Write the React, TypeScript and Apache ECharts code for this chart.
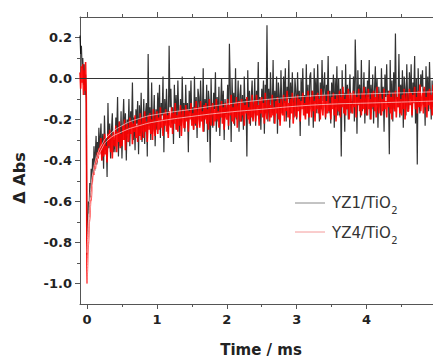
import React, { useEffect, useRef } from "react";
import * as echarts from "echarts";

// Time axis (ms) tick labels
const X_TICKS = [0, 1, 2, 3, 4];
const X_MINOR = [0.5, 1.5, 2.5, 3.5, 4.5];
const Y_TICKS = [-1.0, -0.8, -0.6, -0.4, -0.2, 0.0, 0.2];
const Y_MINOR = [-0.9, -0.7, -0.5, -0.3, -0.1, 0.1];

// sampling of the traces (ms)
const PRE_START = -0.1;
const PRE_STEP = 0.01;
const EARLY_START = 0;
const EARLY_STEP = 0.01;
const MAIN_START = 0.2;
const MAIN_STEP = 0.0125;

// YZ1/TiO2 (black) trace, ΔAbs
const BLACK_PRE = [0.21, 0.12, 0.16, 0.05, 0.1, -0.03, 0.07, -0.08, 0.02, -0.12];
const BLACK_EARLY = [
  -0.86, -0.72, -0.6, -0.66, -0.51, -0.58, -0.44, -0.52, -0.39, -0.47,
  -0.33, -0.45, -0.36, -0.28, -0.42, -0.31, -0.38, -0.24, -0.36, -0.29,
];
const BLACK_MAIN = [
  -0.22, -0.4, -0.27, -0.44, -0.18, -0.35, -0.29, -0.48, -0.12, -0.34, -0.22, -0.39, -0.25, -0.17, -0.36, -0.3,
  -0.36, -0.19, -0.27, -0.09, -0.38, -0.21, -0.33, -0.16, -0.39, -0.22, -0.1, -0.3, -0.17, -0.4, -0.2, -0.27,
  -0.1, -0.33, -0.16, -0.24, -0.02, -0.3, -0.19, -0.35, -0.15, -0.22, -0.11, -0.37, -0.13, -0.27, -0.07, -0.31,
  -0.24, -0.1, -0.32, -0.17, -0.12, -0.38, 0.12, -0.23, -0.14, -0.3, -0.02, -0.27, -0.21, -0.08, -0.33, -0.15,
  -0.25, -0.07, -0.2, -0.03, -0.29, -0.12, -0.18, 0.01, -0.36, -0.1, -0.22, -0.05, -0.19, -0.27, 0.16, -0.14,
  -0.05, -0.22, -0.14, -0.32, -0.03, -0.2, -0.08, -0.25, -0.01, -0.17, -0.29, -0.1, -0.23, 0.01, -0.19, -0.12,
  -0.26, -0.03, -0.2, -0.12, -0.36, -0.06, -0.17, -0.01, -0.21, -0.14, -0.25, 0.01, -0.23, -0.09, -0.29, -0.05,
  -0.09, -0.23, -0.01, -0.16, -0.21, 0.05, -0.26, -0.1, -0.19, -0.03, -0.31, -0.06, -0.12, -0.41, 0.0, -0.18,
  -0.24, -0.07, -0.15, 0.03, -0.26, -0.09, -0.21, -0.04, -0.28, -0.12, 0.0, -0.19, -0.06, -0.3, -0.1, -0.17,
  -0.17, -0.03, -0.25, 0.17, -0.05, -0.31, 0.0, -0.16, -0.07, -0.23, 0.05, -0.2, -0.14, -0.01, -0.26, -0.08,
  -0.03, -0.21, -0.08, -0.25, 0.01, -0.16, -0.1, -0.38, 0.04, -0.18, -0.06, -0.23, -0.09, -0.01, -0.2, -0.14,
  0.0, -0.23, -0.06, -0.14, 0.08, -0.2, -0.09, -0.25, -0.05, -0.12, -0.01, -0.27, -0.03, -0.17, 0.26, -0.21,
  -0.05, -0.19, 0.03, -0.12, -0.17, 0.09, -0.22, -0.06, -0.15, 0.01, -0.27, -0.02, -0.08, -0.21, 0.04, -0.14,
  -0.17, 0.01, -0.12, 0.05, -0.21, -0.04, -0.1, 0.09, -0.24, -0.02, -0.14, 0.03, -0.11, -0.19, 0.0, -0.06,
  -0.2, 0.03, -0.14, -0.06, -0.28, 0.0, -0.11, 0.05, -0.15, -0.08, -0.19, 0.07, -0.17, -0.03, -0.23, 0.01,
  0.03, -0.14, -0.06, -0.24, 0.05, -0.12, 0.0, -0.17, 0.07, -0.09, -0.21, -0.02, -0.15, 0.09, -0.11, -0.04,
  0.03, -0.2, -0.03, -0.11, 0.11, -0.17, -0.06, -0.22, -0.02, -0.09, 0.02, -0.24, 0.0, -0.14, 0.06, -0.18,
  0.0, -0.18, -0.05, -0.38, 0.04, -0.13, -0.07, -0.26, 0.07, -0.15, -0.03, -0.2, -0.06, 0.02, -0.17, -0.11,
  -0.13, 0.01, -0.21, 0.19, -0.01, -0.27, 0.04, -0.12, -0.03, -0.19, 0.09, -0.16, -0.1, 0.03, -0.22, -0.04,
  -0.18, -0.01, -0.09, 0.09, -0.2, -0.03, -0.15, 0.02, -0.22, -0.06, 0.06, -0.13, 0.0, -0.24, -0.04, -0.11,
  -0.18, 0.05, -0.12, -0.04, -0.26, 0.02, -0.09, 0.07, -0.13, -0.06, -0.37, 0.09, -0.15, -0.01, -0.21, 0.03,
  -0.15, 0.22, -0.1, -0.09, -0.14, 0.12, -0.19, -0.03, -0.12, 0.04, -0.24, 0.01, -0.05, -0.18, 0.07, -0.11,
  -0.15, 0.03, -0.1, 0.07, -0.19, -0.02, -0.08, 0.11, -0.22, 0.0, -0.42, 0.05, -0.09, -0.17, 0.02, -0.04,
  0.04, -0.13, -0.05, -0.23, 0.06, -0.11, 0.01, -0.16, 0.08, -0.08, -0.2, -0.01, -0.14,
];

// YZ4/TiO2 (red) trace, ΔAbs
const RED_PRE = [0.03, -0.05, 0.06, -0.02, 0.07, -0.08, 0.04, -0.06, 0.08, -0.09];
const RED_EARLY = [
  -1.0, -0.86, -0.8, -0.71, -0.67, -0.6, -0.59, -0.52, -0.52, -0.46,
  -0.47, -0.42, -0.44, -0.39, -0.41, -0.36, -0.39, -0.34, -0.37, -0.33,
];
const RED_MAIN = [
  -0.29, -0.4, -0.32, -0.38, -0.27, -0.37, -0.33, -0.41, -0.27, -0.33, -0.25, -0.36, -0.28, -0.39, -0.26, -0.32,
  -0.33, -0.23, -0.36, -0.26, -0.31, -0.21, -0.34, -0.27, -0.33, -0.23, -0.3, -0.2, -0.35, -0.26, -0.22, -0.31,
  -0.3, -0.19, -0.27, -0.21, -0.32, -0.22, -0.26, -0.18, -0.29, -0.23, -0.31, -0.2, -0.28, -0.17, -0.3, -0.24,
  -0.19, -0.29, -0.16, -0.26, -0.21, -0.31, -0.18, -0.25, -0.17, -0.27, -0.2, -0.3, -0.15, -0.24, -0.28, -0.19,
  -0.16, -0.27, -0.19, -0.25, -0.14, -0.24, -0.2, -0.28, -0.17, -0.23, -0.15, -0.26, -0.18, -0.29, -0.16, -0.22,
  -0.24, -0.14, -0.27, -0.17, -0.22, -0.12, -0.25, -0.18, -0.26, -0.16, -0.23, -0.13, -0.28, -0.19, -0.15, -0.24,
  -0.24, -0.13, -0.21, -0.15, -0.26, -0.16, -0.2, -0.12, -0.23, -0.17, -0.25, -0.14, -0.22, -0.11, -0.24, -0.18,
  -0.14, -0.24, -0.11, -0.21, -0.16, -0.26, -0.13, -0.2, -0.12, -0.22, -0.15, -0.25, -0.1, -0.19, -0.23, -0.14,
  -0.12, -0.23, -0.15, -0.21, -0.1, -0.2, -0.16, -0.24, -0.13, -0.19, -0.11, -0.22, -0.14, -0.25, -0.12, -0.18,
  -0.2, -0.1, -0.23, -0.13, -0.18, -0.08, -0.21, -0.14, -0.22, -0.12, -0.19, -0.09, -0.24, -0.15, -0.11, -0.2,
  -0.21, -0.1, -0.18, -0.12, -0.23, -0.13, -0.17, -0.09, -0.2, -0.14, -0.22, -0.11, -0.19, -0.08, -0.21, -0.15,
  -0.11, -0.21, -0.08, -0.18, -0.13, -0.23, -0.1, -0.17, -0.09, -0.19, -0.12, -0.22, -0.07, -0.16, -0.2, -0.11,
  -0.1, -0.21, -0.13, -0.19, -0.08, -0.18, -0.14, -0.22, -0.11, -0.17, -0.09, -0.2, -0.12, -0.23, -0.1, -0.16,
  -0.18, -0.08, -0.21, -0.11, -0.16, -0.06, -0.19, -0.12, -0.2, -0.1, -0.17, -0.07, -0.22, -0.13, -0.09, -0.18,
  -0.19, -0.08, -0.16, -0.1, -0.21, -0.11, -0.15, -0.07, -0.18, -0.12, -0.2, -0.09, -0.17, -0.06, -0.19, -0.13,
  -0.09, -0.19, -0.06, -0.16, -0.11, -0.21, -0.08, -0.15, -0.07, -0.17, -0.1, -0.2, -0.05, -0.14, -0.18, -0.09,
  -0.08, -0.19, -0.11, -0.17, -0.06, -0.16, -0.12, -0.2, -0.09, -0.15, -0.07, -0.18, -0.1, -0.21, -0.08, -0.14,
  -0.16, -0.06, -0.19, -0.09, -0.14, -0.04, -0.17, -0.1, -0.18, -0.08, -0.15, -0.05, -0.2, -0.11, -0.07, -0.16,
  -0.17, -0.06, -0.14, -0.08, -0.19, -0.09, -0.13, -0.05, -0.16, -0.1, -0.18, -0.07, -0.15, -0.04, -0.17, -0.11,
  -0.08, -0.18, -0.05, -0.15, -0.1, -0.2, -0.07, -0.14, -0.06, -0.16, -0.09, -0.19, -0.04, -0.13, -0.17, -0.08,
  -0.07, -0.18, -0.1, -0.16, -0.05, -0.15, -0.11, -0.19, -0.08, -0.14, -0.06, -0.17, -0.09, -0.2, -0.07, -0.13,
  -0.16, -0.06, -0.19, -0.09, -0.14, -0.04, -0.17, -0.1, -0.18, -0.08, -0.15, -0.05, -0.2, -0.11, -0.07, -0.16,
  -0.16, -0.05, -0.13, -0.07, -0.18, -0.08, -0.12, -0.04, -0.15, -0.09, -0.17, -0.06, -0.14, -0.03, -0.16, -0.1,
  -0.07, -0.17, -0.04, -0.14, -0.09, -0.19, -0.06, -0.13, -0.05, -0.15, -0.08, -0.18, -0.03,
];

// fitted decays (white lines)
const FIT_T = [0, 0.02, 0.05, 0.1, 0.15, 0.2, 0.3, 0.5, 0.75, 1, 1.5, 2, 2.5, 3, 3.5, 4, 4.5, 4.95];
const BLACK_FIT = [-0.85, -0.7, -0.55, -0.43, -0.37, -0.33, -0.28, -0.23, -0.195, -0.175, -0.15, -0.125, -0.105, -0.09, -0.08, -0.075, -0.07, -0.065];
const RED_FIT = [-1.0, -0.8, -0.62, -0.47, -0.39, -0.35, -0.3, -0.26, -0.23, -0.21, -0.185, -0.165, -0.15, -0.135, -0.125, -0.12, -0.115, -0.11];

const X_MIN = -0.1;
const X_MAX = 4.95;
const Y_MIN = -1.1;
const Y_MAX = 0.3;

const seg = (t0: number, dt: number, vals: number[]) =>
  vals.map((v, i) => [+(t0 + i * dt).toFixed(4), v]);

const trace = (pre: number[], early: number[], main: number[]) => [
  ...seg(PRE_START, PRE_STEP, pre),
  ...seg(EARLY_START, EARLY_STEP, early),
  ...seg(MAIN_START, MAIN_STEP, main),
];

const TICK_FONT = '"DejaVu Sans", sans-serif';
const AX = "#555";

export default function App() {
  const ref = useRef<HTMLDivElement>(null);
  useEffect(() => {
    if (!ref.current) return;
    const chart = echarts.init(ref.current, null, { renderer: "svg" });

    const ctx = document.createElement("canvas").getContext("2d");
    let w1 = 60;
    let w2 = 60;
    if (ctx) {
      ctx.font = '15px "DejaVu Sans"';
      w1 = ctx.measureText("YZ1/TiO").width;
      w2 = ctx.measureText("YZ4/TiO").width;
    }

    const xBase = (pos: "top" | "bottom", major: boolean, labels: boolean) => ({
      type: "value",
      min: X_MIN,
      max: X_MAX,
      position: pos,
      axisLine: { show: major, onZero: false, lineStyle: { color: AX, width: 1 } },
      axisTick: {
        show: true,
        inside: false,
        length: major ? 5 : 3,
        customValues: major ? X_TICKS : X_MINOR,
        lineStyle: { color: AX, width: 1 },
      },
      axisLabel: labels
        ? {
            show: true,
            customValues: X_TICKS,
            margin: 9,
            fontFamily: TICK_FONT,
            fontWeight: "bold",
            fontSize: 13,
            color: "#222",
          }
        : { show: false },
      splitLine: { show: false },
    });

    const yBase = (major: boolean) => ({
      type: "value",
      min: Y_MIN,
      max: Y_MAX,
      position: "left",
      axisLine: { show: major, onZero: false, lineStyle: { color: AX, width: 1 } },
      axisTick: {
        show: true,
        inside: false,
        length: major ? 5 : 3,
        customValues: major ? Y_TICKS : Y_MINOR,
        lineStyle: { color: AX, width: 1 },
      },
      axisLabel: major
        ? {
            show: true,
            customValues: Y_TICKS,
            margin: 8,
            fontFamily: TICK_FONT,
            fontWeight: "bold",
            fontSize: 13,
            color: "#222",
            formatter: (v: number) => (Math.abs(v) < 1e-9 ? "0.0" : v.toFixed(1)),
          }
        : { show: false },
      splitLine: { show: false },
    });

    const legendFont = '15px "DejaVu Sans"';

    chart.setOption({
      animation: false,
      grid: { left: 80, top: 17, right: 0, bottom: 56, containLabel: false },
      xAxis: [
        xBase("bottom", true, true),
        xBase("bottom", false, false),
        xBase("top", true, false),
        xBase("top", false, false),
      ],
      yAxis: [yBase(true), yBase(false)],
      series: [
        {
          type: "line",
          name: "YZ1/TiO2",
          data: trace(BLACK_PRE, BLACK_EARLY, BLACK_MAIN),
          showSymbol: false,
          silent: true,
          lineStyle: { color: "rgba(0,0,0,0.8)", width: 1.2 },
        },
        {
          type: "line",
          name: "YZ4/TiO2",
          data: trace(RED_PRE, RED_EARLY, RED_MAIN),
          showSymbol: false,
          silent: true,
          lineStyle: { color: "rgba(255,0,0,0.92)", width: 1.6 },
        },
        {
          type: "line",
          data: FIT_T.map((t, i) => [t, BLACK_FIT[i]]),
          smooth: true,
          showSymbol: false,
          silent: true,
          lineStyle: { color: "rgba(255,235,235,0.65)", width: 1 },
        },
        {
          type: "line",
          data: FIT_T.map((t, i) => [t, RED_FIT[i]]),
          smooth: true,
          showSymbol: false,
          silent: true,
          lineStyle: { color: "rgba(255,235,235,0.65)", width: 1 },
        },
        {
          type: "line",
          data: [
            [X_MIN, 0],
            [X_MAX, 0],
          ],
          showSymbol: false,
          silent: true,
          lineStyle: { color: "#333", width: 1 },
        },
      ],
      graphic: [
        {
          type: "text",
          x: 19,
          y: 178,
          rotation: Math.PI / 2,
          style: {
            text: "Δ Abs",
            font: 'bold 16px "DejaVu Sans"',
            fill: "#222",
            align: "center",
            verticalAlign: "middle",
          },
        },
        {
          type: "text",
          x: 261,
          y: 350,
          style: {
            text: "Time / ms",
            font: 'bold 15px "DejaVu Sans"',
            fill: "#222",
            align: "center",
            verticalAlign: "middle",
          },
        },
        {
          type: "line",
          shape: { x1: 295, y1: 203, x2: 325, y2: 203 },
          style: { stroke: "#888", lineWidth: 1 },
        },
        {
          type: "text",
          x: 332,
          y: 203,
          style: { text: "YZ1/TiO", font: legendFont, fill: "#333", align: "left", verticalAlign: "middle" },
        },
        {
          type: "text",
          x: 332 + w1 + 0.5,
          y: 210,
          style: { text: "2", font: '10px "DejaVu Sans"', fill: "#333", align: "left", verticalAlign: "middle" },
        },
        {
          type: "line",
          shape: { x1: 295, y1: 232, x2: 325, y2: 232 },
          style: { stroke: "#f49a9a", lineWidth: 1 },
        },
        {
          type: "text",
          x: 332,
          y: 233,
          style: { text: "YZ4/TiO", font: legendFont, fill: "#333", align: "left", verticalAlign: "middle" },
        },
        {
          type: "text",
          x: 332 + w2 + 0.5,
          y: 240,
          style: { text: "2", font: '10px "DejaVu Sans"', fill: "#333", align: "left", verticalAlign: "middle" },
        },
      ],
    });
    return () => chart.dispose();
  }, []);
  return (
    <div
      ref={ref}
      style={{ position: "fixed", left: 0, top: 0, width: 433, height: 360, background: "#fff" }}
    />
  );
}
